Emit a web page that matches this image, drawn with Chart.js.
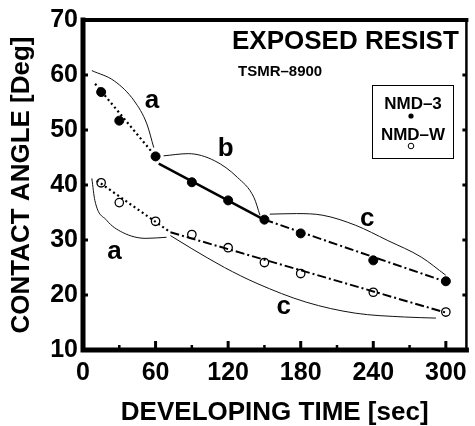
<!DOCTYPE html>
<html>
<head>
<meta charset="utf-8">
<script src="https://cdn.jsdelivr.net/npm/chart.js@4/dist/chart.umd.min.js"></script>
<style>
  html, body { margin: 0; padding: 0; background: #fff; }
  #wrap { width: 475px; height: 426px; }
</style>
</head>
<body>
<div id="wrap"><canvas id="angleChart" width="475" height="426"></canvas></div>
<script>
// developing time (sec) and measured contact angles (deg)
const timeSec = [15, 30, 60, 90, 120, 150, 180, 240, 300];
const nmd3 = [56.9, 51.7, 45.2, 40.5, 37.2, 33.7, 31.2, 26.3, 22.5];
const nmdW = [40.4, 36.8, 33.4, 31.0, 28.6, 25.9, 23.9, 20.5, 16.9];

const xTicks = [0, 60, 120, 180, 240, 300];
const yTicks = [10, 20, 30, 40, 50, 60, 70];

// fitted trend lines  [time, angle]
const fit3Dotted = [[10, 58.4], [60, 45.2]];
const fit3Solid = [[62.6, 43.9], [149.6, 33.7]];
const fit3DashDot = [[150, 33.7], [300, 22.4]];
const fitWDotted = [[11.4, 40.8], [72.3, 31.4]];
const fitWDashDot = [[72.3, 31.4], [300, 16.8]];

// hand drawn region curves  [time, angle]
const curveA1 = [[7.3, 60.8], [26, 58.9], [42.3, 55.3], [52.8, 51.1], [58.5, 46.8]];
const curveB1 = [[66.6, 45.3], [87, 45.7], [108.9, 44.4], [127.6, 41.4], [141.4, 37.7], [146.3, 34.5]];
const curveC1 = [[154.4, 34.7], [176.4, 34.8], [198.3, 34.5], [225.1, 32.7], [252, 29.9], [279.6, 26.9], [299.9, 23.6]];
const curveA2 = [[7.3, 41.2], [9.8, 37.2], [19.5, 33.6], [32.5, 31.4], [52, 30.3], [69.1, 30.5]];
const curveC2 = [[72.3, 30.8], [89.4, 28.5], [117, 25], [143.9, 22.1], [184.5, 18.7], [225.1, 16.7], [265.8, 16], [291.8, 15.8]];

// region letters  [text, time, angle]
const regionLabels = [["a", 57, 55.3], ["b", 118, 46.6], ["c", 235, 33.9], ["a", 26, 27.8], ["c", 166, 17.8]];

const FONT = "'Liberation Sans', Arial, Helvetica, sans-serif";

const toXY = (arr) => arr.map((p) => ({ x: p[0], y: p[1] }));

function curveSet(arr) {
  return {
    data: toXY(arr),
    borderColor: "#111",
    borderWidth: 1,
    pointRadius: 0,
    cubicInterpolationMode: "monotone",
    fill: false,
  };
}

function fitSet(arr, dash, width) {
  return {
    data: toXY(arr),
    borderColor: "#000",
    borderWidth: width,
    borderDash: dash,
    pointRadius: 0,
    tension: 0,
    fill: false,
  };
}

// frame, inward ticks, letters, title and legend box
const decorPlugin = {
  id: "decor",
  afterDraw(chart) {
    const { ctx, chartArea: a, scales } = chart;
    const xs = scales.x, ys = scales.y;
    ctx.save();
    ctx.strokeStyle = "#000";
    ctx.lineCap = "square";

    // frame
    ctx.lineWidth = 4;
    ctx.beginPath();
    ctx.moveTo(a.left, a.top); ctx.lineTo(a.right, a.top);
    ctx.stroke();
    ctx.lineWidth = 5;
    ctx.beginPath();
    ctx.moveTo(a.left, a.top); ctx.lineTo(a.left, a.bottom); ctx.lineTo(a.right, a.bottom);
    ctx.stroke();
    ctx.lineWidth = 2.5;
    ctx.beginPath();
    ctx.moveTo(a.right, a.top); ctx.lineTo(a.right, a.bottom);
    ctx.stroke();

    // x ticks pointing up
    ctx.lineCap = "butt";
    for (let v = 30; v <= 300; v += 30) {
      const px = xs.getPixelForValue(v);
      const major = v % 60 === 0;
      ctx.lineWidth = major ? 3 : 2.5;
      ctx.beginPath();
      ctx.moveTo(px, a.bottom);
      ctx.lineTo(px, a.bottom - (major ? 9 : 5));
      ctx.stroke();
    }
    // y ticks pointing in, both sides
    for (let v = 20; v <= 60; v += 10) {
      const py = ys.getPixelForValue(v);
      ctx.lineWidth = 3;
      ctx.beginPath();
      ctx.moveTo(a.left, py); ctx.lineTo(a.left + 5, py);
      ctx.moveTo(a.right, py); ctx.lineTo(a.right - 4, py);
      ctx.stroke();
    }

    // region letters
    ctx.fillStyle = "#000";
    ctx.font = "bold 26px " + FONT;
    ctx.textAlign = "center";
    ctx.textBaseline = "middle";
    regionLabels.forEach(([t, x, y]) => {
      ctx.fillText(t, xs.getPixelForValue(x), ys.getPixelForValue(y));
    });

    // title texts
    ctx.textAlign = "left";
    ctx.font = "bold 26px " + FONT;
    ctx.fillText("EXPOSED RESIST", 232, 42);
    ctx.font = "bold 15px " + FONT;
    ctx.fillText("TSMR\u20138900", 238, 72);

    // legend box
    ctx.lineWidth = 1;
    ctx.strokeRect(372.5, 85.5, 81, 73);
    ctx.textAlign = "center";
    ctx.font = "bold 17px " + FONT;
    ctx.fillText("NMD\u20133", 413, 104);
    ctx.fillText("NMD\u2013W", 413, 135);
    ctx.beginPath();
    ctx.arc(411, 116, 2.6, 0, Math.PI * 2);
    ctx.fill();
    ctx.beginPath();
    ctx.arc(411, 146, 2.8, 0, Math.PI * 2);
    ctx.fillStyle = "#fff";
    ctx.fill();
    ctx.stroke();
    ctx.restore();
  },
};

const ctx = document.getElementById("angleChart").getContext("2d");
new Chart(ctx, {
  type: "line",
  data: {
    datasets: [
      curveSet(curveA1),
      curveSet(curveB1),
      curveSet(curveC1),
      curveSet(curveA2),
      curveSet(curveC2),
      fitSet(fit3Dotted, [2, 3], 2.2),
      fitSet(fit3Solid, [], 2.5),
      fitSet(fit3DashDot, [9, 3, 2, 3], 2),
      fitSet(fitWDotted, [2, 3], 2.2),
      fitSet(fitWDashDot, [9, 3, 2, 3], 2),
      {
        label: "NMD-3",
        data: timeSec.map((t, i) => ({ x: t, y: nmd3[i] })),
        showLine: false,
        pointRadius: 4.5,
        pointBackgroundColor: "#000",
        pointBorderColor: "#000",
        pointBorderWidth: 1,
      },
      {
        label: "NMD-W",
        data: timeSec.map((t, i) => ({ x: t, y: nmdW[i] })),
        showLine: false,
        pointRadius: 4.2,
        pointBackgroundColor: "#fff",
        pointBorderColor: "#000",
        pointBorderWidth: 1.3,
      },
    ],
  },
  options: {
    responsive: false,
    animation: false,
    events: [],
    layout: { padding: { left: 0, right: 2, top: 19, bottom: 0 } },
    plugins: { legend: { display: false }, tooltip: { enabled: false } },
    scales: {
      x: {
        type: "linear",
        min: 0,
        max: 317,
        afterBuildTicks: (s) => { s.ticks = xTicks.map((v) => ({ value: v })); },
        afterFit: (s) => { s.height = 76; },
        grid: { display: false, drawTicks: false },
        border: { display: false },
        ticks: {
          padding: 8,
          color: "#000",
          font: { family: FONT, size: 25, weight: "bold" },
        },
        title: {
          display: true,
          text: "DEVELOPING TIME [sec]",
          color: "#000",
          font: { family: FONT, size: 26, weight: "bold", lineHeight: 1 },
          padding: { top: 0, bottom: 0 },
        },
      },
      y: {
        min: 10,
        max: 70,
        afterBuildTicks: (s) => { s.ticks = yTicks.map((v) => ({ value: v })); },
        afterFit: (s) => { s.width = 83; },
        grid: { display: false, drawTicks: false },
        border: { display: false },
        ticks: {
          padding: 5,
          color: "#000",
          font: { family: FONT, size: 25, weight: "bold" },
        },
        title: {
          display: true,
          text: "CONTACT ANGLE [Deg]",
          color: "#000",
          font: { family: FONT, size: 26, weight: "bold", lineHeight: 1 },
          padding: { top: 9, bottom: 0 },
        },
      },
    },
  },
  plugins: [decorPlugin],
});
</script>
</body>
</html>
